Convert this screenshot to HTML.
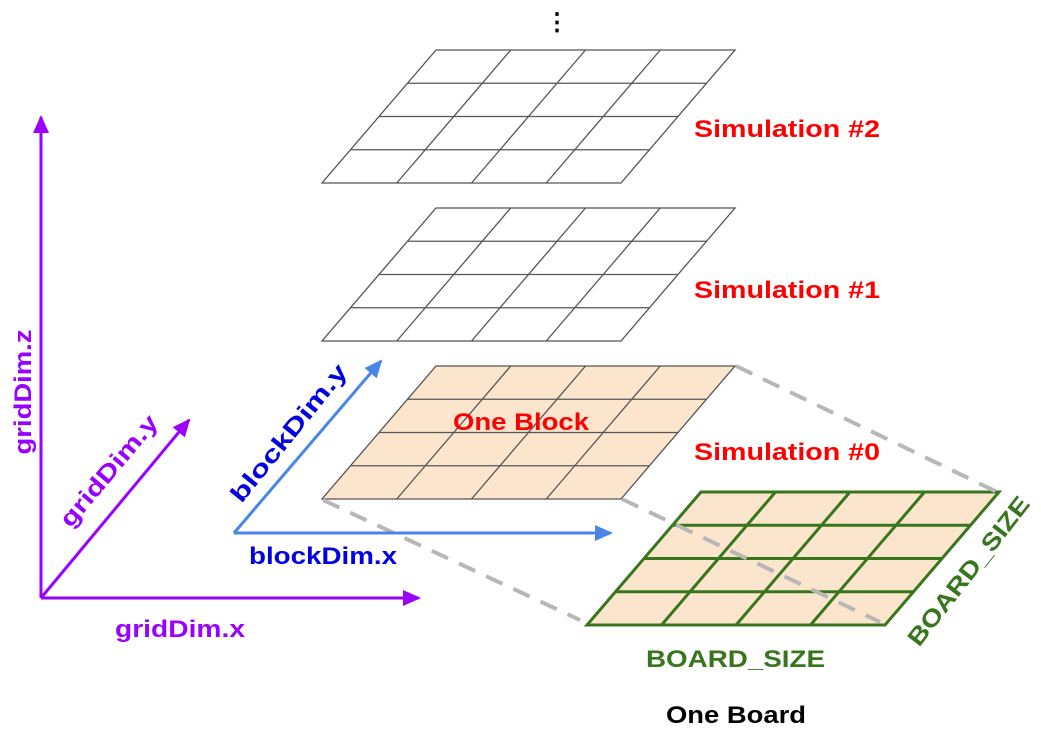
<!DOCTYPE html>
<html><head><meta charset="utf-8"><style>
html,body{margin:0;padding:0;background:#fff;}
svg{display:block;font-family:"Liberation Sans",sans-serif;font-weight:bold;}
</style></head><body>
<svg id="d" width="1041" height="737" viewBox="0 0 1041 737">
<defs>
<marker id="mp" markerWidth="18" markerHeight="16" refX="16" refY="8" orient="auto" markerUnits="userSpaceOnUse" viewBox="0 0 18 16"><path d="M0,0 L18,8 L0,16 z" fill="#9900ff"/></marker>
<marker id="mb" markerWidth="18" markerHeight="16" refX="16" refY="8" orient="auto" markerUnits="userSpaceOnUse" viewBox="0 0 18 16"><path d="M0,0 L18,8 L0,16 z" fill="#4a86e8"/></marker>
</defs>
<g id="grids"></g>
<g stroke="#b7b7b7" stroke-width="4" stroke-dasharray="18,12">
<line x1="736" y1="366" x2="997" y2="492"/>
<line x1="323" y1="500" x2="580" y2="620"/>
<line x1="622" y1="499" x2="880" y2="622"/>
</g>
<text x="557" y="30" font-size="24" fill="#000" text-anchor="middle">⋮</text>
<g stroke="#9900ff" stroke-width="3">
<line x1="41" y1="598" x2="41" y2="117" marker-end="url(#mp)"/>
<line x1="41" y1="598" x2="419" y2="598" marker-end="url(#mp)"/>
<line x1="41" y1="598" x2="189" y2="420" marker-end="url(#mp)"/>
</g>
<g stroke="#4a86e8" stroke-width="3">
<line x1="234" y1="533" x2="611" y2="533" marker-end="url(#mb)"/>
<line x1="234" y1="533" x2="381" y2="361" marker-end="url(#mb)"/>
</g>
<text x="115" y="637" font-size="24" fill="#9900ff" textLength="130" lengthAdjust="spacingAndGlyphs">gridDim.x</text>
<text transform="translate(31,392) rotate(-90)" font-size="24" fill="#9900ff" text-anchor="middle" textLength="125" lengthAdjust="spacingAndGlyphs">gridDim.z</text>
<text transform="translate(115,476) rotate(-50)" font-size="24" fill="#9900ff" text-anchor="middle" textLength="138" lengthAdjust="spacingAndGlyphs">gridDim.y</text>
<text x="249" y="564" font-size="24" fill="#0000e0" textLength="148" lengthAdjust="spacingAndGlyphs">blockDim.x</text>
<text transform="translate(295,438) rotate(-51)" font-size="24" fill="#0000e0" text-anchor="middle" textLength="170" lengthAdjust="spacingAndGlyphs">blockDim.y</text>
<text x="694" y="137" font-size="24" fill="#ff0000" textLength="186" lengthAdjust="spacingAndGlyphs">Simulation #2</text>
<text x="694" y="298" font-size="24" fill="#ff0000" textLength="186" lengthAdjust="spacingAndGlyphs">Simulation #1</text>
<text x="694" y="460" font-size="24" fill="#ff0000" textLength="186" lengthAdjust="spacingAndGlyphs">Simulation #0</text>
<text x="453" y="430" font-size="24" fill="#ff0000" textLength="136" lengthAdjust="spacingAndGlyphs">One Block</text>
<text x="646" y="667" font-size="24" fill="#38761d" textLength="179" lengthAdjust="spacingAndGlyphs">BOARD_SIZE</text>
<text transform="translate(975,576) rotate(-52)" font-size="24" fill="#38761d" text-anchor="middle" textLength="182" lengthAdjust="spacingAndGlyphs">BOARD_SIZE</text>
<text x="666" y="723" font-size="24" fill="#000" textLength="140" lengthAdjust="spacingAndGlyphs">One Board</text>
</svg>
<script>
const gridNames=['simulation-2-grid','simulation-1-grid','simulation-0-grid','board-grid'];
const gridTops=[50,208,366,492];
const gridLefts=[436,436,436,701];
const gridRows=[4,4,4,4];
const gridCols=[4,4,4,4];
const NS='http://www.w3.org/2000/svg';
const g=document.getElementById('grids');
const W=[299,299,299,298], SK=114, H=133;
const fills=['none','none','#fce5cd','#fce5cd'];
const strokes=['#555','#555','#555','#38761d'];
const sw=[1.3,1.3,1.3,3];
gridNames.forEach((n,i)=>{
  const grp=document.createElementNS(NS,'g');
  
  
  const x0=gridLefts[i], y0=gridTops[i], w=W[i];
  const P=(u,v)=>[x0+u*w-v*SK, y0+v*H];
  const poly=document.createElementNS(NS,'polygon');
  poly.setAttribute('points',[P(0,0),P(1,0),P(1,1),P(0,1)].map(p=>p.join(',')).join(' '));
  poly.setAttribute('fill',fills[i]);poly.setAttribute('stroke',strokes[i]);poly.setAttribute('stroke-width',sw[i]);
  grp.appendChild(poly);
  for(let r=1;r<gridRows[i];r++){const a=P(0,r/gridRows[i]),b=P(1,r/gridRows[i]);
    const l=document.createElementNS(NS,'line');l.setAttribute('x1',a[0]);l.setAttribute('y1',a[1]);l.setAttribute('x2',b[0]);l.setAttribute('y2',b[1]);
    l.setAttribute('stroke',strokes[i]);l.setAttribute('stroke-width',sw[i]);grp.appendChild(l);}
  for(let c=1;c<gridCols[i];c++){const a=P(c/gridCols[i],0),b=P(c/gridCols[i],1);
    const l=document.createElementNS(NS,'line');l.setAttribute('x1',a[0]);l.setAttribute('y1',a[1]);l.setAttribute('x2',b[0]);l.setAttribute('y2',b[1]);
    l.setAttribute('stroke',strokes[i]);l.setAttribute('stroke-width',sw[i]);grp.appendChild(l);}
  g.appendChild(grp);
});
</script>
</body></html>
